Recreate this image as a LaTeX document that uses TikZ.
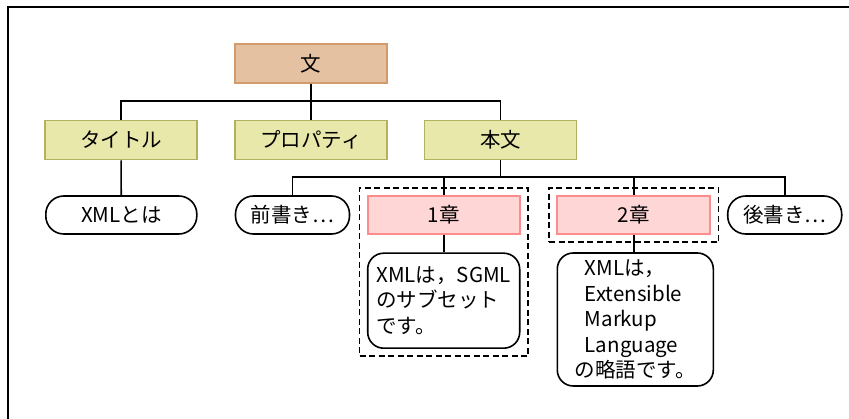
\documentclass[tikz,border=0pt]{standalone}
\usepackage{fontspec}
\setmainfont{Noto Sans CJK JP}
\usetikzlibrary{fit}
\definecolor{wenFill}{HTML}{E4C1A1}
\definecolor{wenLine}{HTML}{D39A6C}
\definecolor{midFill}{HTML}{E8E8AB}
\definecolor{midLine}{HTML}{B2B25E}
\definecolor{chapFill}{HTML}{FFD6D6}
\definecolor{chapLine}{HTML}{FF8C8C}
\tikzset{
	wenBox/.style = {draw=wenLine, fill=wenFill, line width=1.8pt, minimum width=152pt, minimum height=39pt},
	midBox/.style = {draw=midLine, fill=midFill, line width=1.8pt, minimum width=152pt, minimum height=39pt},
	chapBox/.style = {draw=chapLine, fill=chapFill, line width=1.8pt, minimum width=152pt, minimum height=38pt},
	leafBox/.style = {draw, line width=1.6pt, rounded corners=18pt, minimum height=38pt},
	noteBox/.style = {draw, line width=1.6pt, rounded corners=16pt, align=left, inner sep=0pt},
	dashBox/.style = {draw, line width=1.7pt, dash pattern=on 6pt off 3.5pt, inner sep=7.3pt},
	link/.style = {line width=1.6pt}
}
\newcommand{\myBox}[4]{
\node[#1] (#2) at (#3) {#4};
}
\begin{document}
\begin{tikzpicture}[x=1pt, y=-1pt, font=\fontsize{20.5}{25.5}\selectfont]
	\useasboundingbox (0,0) rectangle (849,419);
	\draw[line width=2.2pt] (8,419) -- (8,7) -- (849,7);

	\myBox{wenBox}{wen}{311,63.5}{文}
	\myBox{midBox}{title}{121,140}{タイトル}
	\myBox{midBox}{prop}{311,140}{プロパティ}
	\myBox{midBox}{honbun}{500.5,140}{本文}

	\myBox{leafBox, minimum width=151pt}{xml}{121.3,215}{XMLとは}
	\myBox{leafBox, minimum width=114pt, inner xsep=0pt}{mae}{292.5,215}{前書き⋯}
	\myBox{chapBox}{ch1}{443.7,215}{1章}
	\myBox{chapBox, minimum width=153pt}{ch2}{633.7,215}{2章}
	\myBox{leafBox, minimum width=114pt, inner xsep=0pt}{ato}{784.7,215}{後書き⋯}

	\myBox{noteBox, minimum width=152pt, minimum height=95pt}{note1}{443.7,300.7}{XMLは，SGML\\のサブセット\\です。}
	\myBox{noteBox, minimum width=156pt, minimum height=133pt}{note2}{635.3,319.5}{\hspace{10pt}XMLは，\\\hspace{10pt}Extensible\\\hspace{10pt}Markup\\\hspace{10pt}Language\\の略語です。}

	\node[dashBox, fit=(ch1)(note1)] (dash1) {};
	\node[dashBox, fit=(ch2)] (dash2) {};

	\coordinate (bar1) at (311,101);
	\coordinate (bar2) at (500.5,177);
	\draw[link] (wen) -- (prop);
	\draw[link] (title.north) |- (bar1) -| (honbun.north);
	\draw[link] (title) -- (xml);
	\draw[link] (honbun) -- (bar2);
	\draw[link] (mae.north) |- (bar2) -| (ato.north);
	\draw[link] (ch1.north) -- (ch1.north |- bar2);
	\draw[link] (ch2.north) -- (ch2.north |- bar2);
	\draw[link] (ch1) -- (note1);
	\draw[link] (ch2.south) -- (ch2.south |- note2.north);
\end{tikzpicture}
\end{document}
